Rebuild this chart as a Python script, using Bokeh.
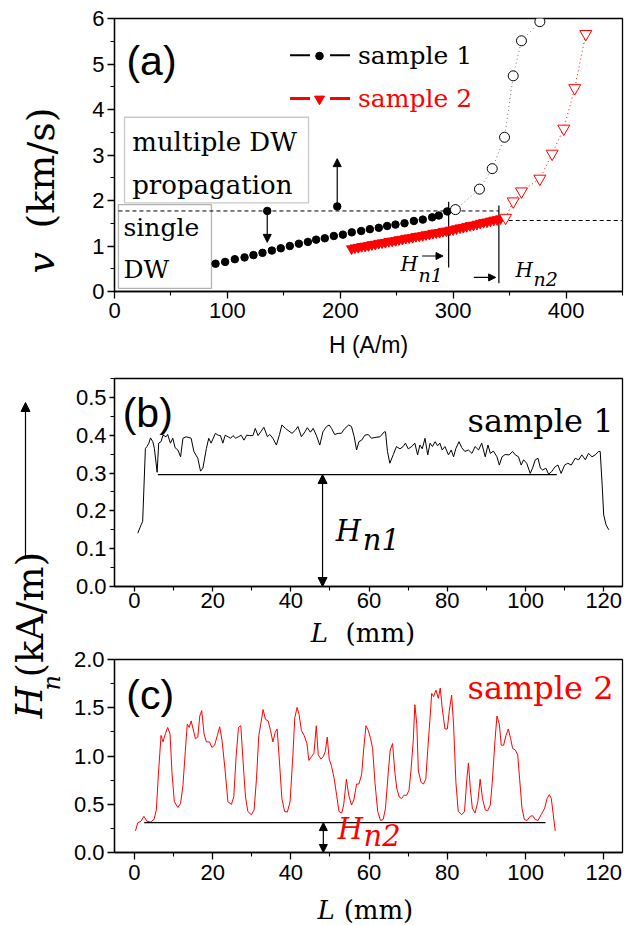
import math
from bokeh.plotting import figure
from bokeh.layouts import row, column
from bokeh.models import (Range1d, Label, Arrow, NormalHead, Legend, LegendItem,
                          FixedTicker, PrintfTickFormatter, BoxAnnotation)
from bokeh.embed import file_html
from bokeh.resources import INLINE

# ---------------- data: panel (a) ----------------
s1_fill_H = [89.5, 98.0, 106.6, 115.2, 123.1, 131.1, 139.4, 147.3, 155.3, 163.3, 171.3, 178.6, 186.3,
             194.3, 202.3, 210.2, 218.5, 226.2, 234.1, 241.5, 248.9, 256.9, 265.2, 273.1, 281.4, 287.3, 294.7]
s1_fill_v = [0.61, 0.65, 0.71, 0.75, 0.80, 0.85, 0.90, 0.95, 1.00, 1.05, 1.09, 1.14, 1.17,
             1.22, 1.25, 1.30, 1.33, 1.37, 1.40, 1.44, 1.47, 1.50, 1.55, 1.58, 1.63, 1.67, 1.76]
s1_open_H = [302.0, 323.3, 334.6, 345.5, 353.2, 360.5, 376.8]
s1_open_v = [1.80, 2.25, 2.70, 3.39, 4.74, 5.51, 5.93]
s2_fill_H = [210, 213, 216, 219, 222, 225, 228, 231, 234, 237, 240, 243, 246, 249, 252, 255, 258, 261,
             264, 267, 270, 273, 276, 279, 282, 285, 288, 291, 294, 297, 300, 303, 306, 309, 312, 315,
             318, 321, 324, 327, 330, 333, 336, 339, 342]
s2_fill_v = [0.94, 0.96, 0.97, 0.99, 1.00, 1.01, 1.03, 1.04, 1.06, 1.07, 1.08, 1.10, 1.11, 1.12, 1.14,
             1.15, 1.17, 1.18, 1.19, 1.21, 1.22, 1.23, 1.25, 1.26, 1.28, 1.29, 1.30, 1.32, 1.33, 1.35,
             1.36, 1.38, 1.40, 1.41, 1.43, 1.45, 1.46, 1.48, 1.50, 1.52, 1.53, 1.55, 1.57, 1.58, 1.60]
s2_open_H = [346.4, 353.2, 360.5, 376.8, 387.7, 398.0, 407.7, 417.5]
s2_open_v = [1.62, 1.98, 2.20, 2.48, 3.03, 3.58, 4.47, 5.66]

# critical fields and thresholds (panel a)
hn_H = [296.0, 340.5]
hn_v_low = [0.53, 0.18]
hn_v_high = [1.97, 1.89]
thr_v = [1.77, 1.56]
thr_H_start = [3.5, 343.0]
thr_H_end = [340.5, 450.0]
mark_H = [135.3, 197.3]
mark_v = [1.77, 1.87]

a_xticks = [0, 100, 200, 300, 400]
a_xminor = [50, 150, 250, 350, 450]
a_yticks = [0, 1, 2, 3, 4, 5, 6]
a_yminor = [0.5, 1.5, 2.5, 3.5, 4.5, 5.5]

# ---------------- data: panel (b) sample 1 ----------------
L_b = [0.85, 1.7, 2.1, 2.8, 3.2, 3.7, 4.1, 4.7, 5.1, 5.8,
       6.2, 6.8, 7.3, 8.1, 8.5, 9.2, 9.8, 10.4, 11.1, 11.8,
       12.4, 13.2, 14.5, 15.2, 16.2, 16.9, 17.5, 18.4, 19.0, 19.6,
       20.7, 21.4, 22.0, 22.6, 23.2, 23.9, 24.6, 25.2, 25.9, 26.6,
       27.3, 28.0, 28.7, 29.5, 30.3, 30.9, 31.6, 32.3, 33.1, 34.0,
       34.6, 35.4, 36.3, 37.1, 37.7, 38.6, 39.5, 40.3, 41.2, 41.8,
       42.7, 43.6, 44.2, 45.0, 45.7, 46.5, 47.4, 48.2, 49.1, 49.8,
       50.4, 51.2, 52.1, 52.9, 53.8, 54.8, 55.5, 56.2, 56.8, 57.4,
       58.1, 58.9, 59.8, 60.6, 61.5, 62.8, 63.9, 64.2, 64.7, 65.3,
       66.2, 67.0, 67.9, 68.7, 69.3, 70.0, 70.9, 71.7, 72.4, 73.0,
       73.6, 74.3, 75.0, 75.6, 76.2, 76.9, 77.5, 78.1, 78.7, 79.4,
       80.3, 81.0, 81.6, 82.2, 83.0, 83.7, 84.5, 85.4, 86.3, 87.1,
       88.0, 88.8, 89.7, 90.4, 91.0, 91.8, 92.7, 93.3, 94.0, 94.8,
       95.8, 96.7, 97.4, 98.2, 98.9, 99.5, 100.3, 101.2, 101.8, 102.5,
       103.2, 103.8, 104.4, 105.2, 105.9, 106.7, 107.6, 108.3, 109.1, 110.0,
       110.8, 111.7, 112.7, 113.6, 114.4, 115.3, 116.1, 117.0, 117.8, 118.7,
       119.1, 119.6, 120.0, 120.6, 121.3]
Hn_b = [0.141, 0.163, 0.172, 0.365, 0.37, 0.379, 0.393, 0.383, 0.365, 0.302,
        0.379, 0.383, 0.40, 0.396, 0.402, 0.379, 0.392, 0.367, 0.361, 0.343,
        0.392, 0.396, 0.392, 0.357, 0.339, 0.305, 0.313, 0.365, 0.392, 0.379,
        0.405, 0.40, 0.399, 0.379, 0.40, 0.396, 0.392, 0.399, 0.392, 0.396,
        0.40, 0.387, 0.40, 0.399, 0.399, 0.418, 0.399, 0.409, 0.421, 0.396,
        0.402, 0.392, 0.374, 0.402, 0.427, 0.418, 0.411, 0.405, 0.414, 0.423,
        0.396, 0.409, 0.42, 0.408, 0.418, 0.40, 0.374, 0.409, 0.423, 0.427,
        0.418, 0.402, 0.405, 0.405, 0.418, 0.427, 0.423, 0.396, 0.361, 0.383,
        0.387, 0.40, 0.402, 0.392, 0.394, 0.396, 0.409, 0.409, 0.357, 0.326,
        0.349, 0.37, 0.364, 0.37, 0.379, 0.364, 0.37, 0.379, 0.348, 0.374,
        0.364, 0.392, 0.348, 0.379, 0.37, 0.383, 0.372, 0.379, 0.361, 0.37,
        0.348, 0.361, 0.343, 0.365, 0.383, 0.367, 0.357, 0.361, 0.352, 0.37,
        0.361, 0.379, 0.343, 0.374, 0.352, 0.358, 0.343, 0.321, 0.343, 0.349,
        0.348, 0.357, 0.348, 0.343, 0.321, 0.335, 0.326, 0.299, 0.313, 0.335,
        0.339, 0.313, 0.308, 0.313, 0.297, 0.304, 0.317, 0.321, 0.299, 0.321,
        0.326, 0.321, 0.339, 0.335, 0.348, 0.335, 0.352, 0.343, 0.348, 0.357,
        0.357, 0.268, 0.189, 0.163, 0.15]
hn1_level = 0.296
hn1_span = [6.0, 108.0]
hn1_arrow_L = 48.1

# ---------------- data: panel (c) sample 2 ----------------
L_c = [0.26, 0.85, 1.7, 2.4, 3.2, 4.1, 5.0, 5.6, 6.1, 6.8,
       7.3, 7.9, 8.5, 9.1, 9.6, 10.2, 11.1, 11.8, 12.4, 13.0,
       13.5, 14.0, 14.5, 15.0, 15.6, 16.2, 16.7, 17.2, 17.8, 18.4,
       19.2, 19.8, 20.5, 21.2, 21.8, 22.4, 23.2, 23.9, 24.8, 25.4,
       26.0, 26.6, 27.2, 27.8, 28.4, 29.0, 29.9, 30.6, 31.2, 31.8,
       32.3, 32.9, 33.5, 34.2, 34.8, 35.4, 36.0, 36.5, 37.1, 37.7,
       38.4, 39.1, 39.8, 40.5, 41.0, 41.6, 42.1, 42.7, 43.4, 44.1,
       44.6, 45.3, 45.9, 46.5, 47.0, 47.7, 48.3, 48.8, 49.3, 49.8,
       50.4, 51.1, 51.7, 52.3, 53.0, 53.5, 54.2, 54.8, 55.5, 56.1,
       56.8, 57.4, 58.1, 58.6, 59.2, 59.8, 60.4, 60.9, 61.5, 62.2,
       62.9, 63.6, 64.2, 64.9, 65.4, 66.0, 66.6, 67.1, 67.7, 68.3,
       68.9, 69.6, 70.2, 70.7, 71.3, 71.7, 72.2, 72.6, 73.3, 73.9,
       74.5, 75.0, 75.6, 76.0, 76.5, 77.1, 77.7, 78.2, 78.7, 79.4,
       80.0, 80.5, 81.1, 81.6, 82.2, 82.8, 83.7, 84.4, 85.0, 85.4,
       85.9, 86.4, 87.1, 87.8, 88.4, 89.0, 89.7, 90.3, 91.0, 91.5,
       92.2, 92.7, 93.3, 93.8, 94.4, 95.0, 95.6, 96.2, 96.7, 97.4,
       98.0, 98.5, 99.1, 99.7, 100.4, 101.2, 101.8, 102.5, 103.2, 104.0,
       104.9, 105.5, 106.1, 106.6, 107.2, 107.6]
Hn_c = [0.224, 0.308, 0.325, 0.375, 0.325, 0.315, 0.342, 0.442, 0.794, 1.213,
        1.146, 1.229, 1.296, 1.229, 0.827, 0.526, 0.466, 0.509, 0.693, 1.045,
        1.33, 1.296, 1.363, 1.28, 1.179, 1.196, 1.414, 1.471, 1.229, 1.146,
        1.146, 1.089, 1.112, 1.213, 1.303, 1.162, 0.844, 0.526, 0.499, 0.576,
        0.995, 1.296, 1.313, 0.928, 0.576, 0.425, 0.392, 0.442, 0.760, 1.213,
        1.33, 1.481, 1.38, 1.363, 1.263, 1.146, 1.246, 1.28, 0.928, 0.559,
        0.425, 0.419, 0.526, 0.995, 1.397, 1.504, 1.43, 1.263, 1.213, 1.129,
        0.955, 0.995, 1.028, 1.313, 1.012, 0.968, 0.995, 1.045, 1.196, 0.968,
        0.894, 0.760, 0.593, 0.425, 0.409, 0.492, 0.760, 0.593, 0.492, 0.543,
        0.710, 0.710, 0.811, 1.062, 1.313, 1.263, 1.179, 1.079, 0.727, 0.425,
        0.332, 0.342, 0.459, 0.827, 1.062, 1.129, 0.827, 0.66, 0.576, 0.559,
        0.593, 0.593, 0.643, 0.844, 1.162, 1.531, 1.33, 0.844, 0.727, 0.710,
        0.760, 1.062, 1.397, 1.648, 1.615, 1.682, 1.598, 1.705, 1.497, 1.28,
        1.28, 1.464, 1.631, 1.33, 0.727, 0.425, 0.392, 0.425, 0.760, 0.928,
        0.66, 0.459, 0.409, 0.526, 0.760, 0.559, 0.442, 0.432, 0.492, 0.727,
        1.162, 1.414, 1.33, 1.112, 1.112, 1.213, 1.28, 1.179, 1.079, 1.062,
        1.012, 0.760, 0.459, 0.342, 0.332, 0.375, 0.382, 0.342, 0.332, 0.392,
        0.459, 0.559, 0.60, 0.559, 0.358, 0.224]
hn2_level = 0.31
hn2_span = [2.5, 105.1]
hn2_arrow_L = 48.3

L_ticks = [0, 20, 40, 60, 80, 100, 120]
L_minor = [10, 30, 50, 70, 90, 110]
b_yticks = [0.0, 0.1, 0.2, 0.3, 0.4, 0.5]
b_yminor = [0.05, 0.15, 0.25, 0.35, 0.45, 0.55]
c_yticks = [0.0, 0.5, 1.0, 1.5, 2.0]
c_yminor = [0.25, 0.75, 1.25, 1.75]

SERIF = "DejaVu Serif"
SANS = "Liberation Sans"
RED = "#ff0000"
W_LEFT = 66            # strip holding the rotated axis titles
W_RIGHT = 558          # width of the right-hand column of panels
BL, BR = 48, 2         # left / right borders of every panel
MID = 0.34             # distance (in em) from the alphabetic baseline to the text-box middle


def style(p, xt, xm, yt, ym, yfmt=None, xstand=4, tick_out=7):
    p.xgrid.visible = False
    p.ygrid.visible = False
    p.outline_line_color = "black"
    p.outline_line_width = 1.3
    p.background_fill_color = "white"
    p.border_fill_color = "white"
    for ax in list(p.xaxis) + list(p.yaxis):
        ax.axis_line_color = "black"
        ax.axis_line_width = 1.3
        ax.major_tick_line_color = "black"
        ax.major_tick_line_width = 1.3
        ax.minor_tick_line_color = "black"
        ax.minor_tick_line_width = 1.1
        ax.major_tick_in = 0
        ax.major_tick_out = tick_out
        ax.minor_tick_in = 0
        ax.minor_tick_out = 4
        ax.major_label_text_font = SANS
        ax.major_label_text_font_size = "22px"
        ax.major_label_text_color = "black"
    p.xaxis.ticker = FixedTicker(ticks=xt, minor_ticks=xm)
    p.yaxis.ticker = FixedTicker(ticks=yt, minor_ticks=ym)
    p.xaxis.major_label_standoff = xstand
    p.yaxis.major_label_standoff = 3
    if yfmt:
        p.yaxis.formatter = PrintfTickFormatter(format=yfmt)


def lab(p, x, y, text, size, color="black", font=SERIF, fstyle="normal",
        align="left", angle=0.0):
    """(x, y) is the start (or end, for right-aligned text) of the baseline."""
    off = MID * size
    if angle == 0.0:
        xo, yo = 0.0, off
    else:  # text reading upwards: its "up" points to the left of the page
        xo, yo = -off, 0.0
    p.add_layout(Label(x=x, y=y, x_offset=xo, y_offset=yo, text=text, text_font=font,
                       text_font_size=f"{size}px", text_color=color,
                       text_font_style=fstyle, text_align=align,
                       text_baseline="middle", angle=angle))


def arrow(p, x0, y0, x1, y1, both=False, size=8, color="black"):
    head = dict(size=size, line_color=color, fill_color=color, line_width=1)
    p.add_layout(Arrow(x_start=x0, y_start=y0, x_end=x1, y_end=y1,
                       end=NormalHead(**head),
                       start=NormalHead(**head) if both else None,
                       line_color=color, line_width=1.2))


def strip(height, xr):
    s = figure(width=W_RIGHT, height=height, x_range=xr, y_range=Range1d(0, height),
               x_axis_type=None, y_axis_type=None, output_backend="svg",
               toolbar_location=None, min_border_left=BL, min_border_right=BR,
               min_border_top=0, min_border_bottom=0)
    s.outline_line_color = None
    return s


# ---------------- figure (a) ----------------
fa = figure(width=W_RIGHT, height=368, x_range=Range1d(0, 450), y_range=Range1d(0, 6),
            output_backend="svg", toolbar_location=None,
            min_border_left=BL, min_border_right=BR, min_border_top=18, min_border_bottom=77)
style(fa, a_xticks, a_xminor, a_yticks, a_yminor, xstand=4)
fa.xaxis.axis_label = "H (A/m)"
fa.xaxis.axis_label_text_font = SANS
fa.xaxis.axis_label_text_font_style = "normal"
fa.xaxis.axis_label_text_font_size = "23px"
fa.xaxis.axis_label_text_color = "black"
fa.xaxis.axis_label_standoff = 11

fa.add_layout(BoxAnnotation(left=8.9, right=171.9, bottom=1.95, top=3.83, fill_alpha=0,
                            line_color="#4d4d4d", line_width=1.3))
fa.add_layout(BoxAnnotation(left=3.5, right=85.9, bottom=0.07, top=1.91, fill_alpha=0,
                            line_color="black", line_width=1.3))

fa.segment(x0=thr_H_start, y0=thr_v, x1=thr_H_end, y1=thr_v, line_color="black",
           line_width=1, line_dash="4 3")
fa.segment(x0=hn_H, y0=hn_v_low, x1=hn_H, y1=hn_v_high, line_color="black", line_width=1.2)

fa.line(s1_open_H, s1_open_v, line_color="#777777", line_width=1, line_dash="1 3")
fa.line(s2_open_H, s2_open_v, line_color=RED, line_width=1, line_dash="1 3")
r_s1 = fa.scatter(s1_fill_H, s1_fill_v, marker="circle", size=7.5, color="black")
fa.scatter(s1_open_H, s1_open_v, marker="circle", size=10, line_color="black",
           fill_color="white", line_width=1)
r_s2 = fa.scatter(s2_fill_H, s2_fill_v, marker="inverted_triangle", size=10, color=RED)
fa.scatter(s2_open_H, s2_open_v, marker="inverted_triangle", size=12, line_color=RED,
           fill_color="white", line_width=1)
fa.scatter(mark_H, mark_v, marker="circle", size=7.5, color="black")

arrow(fa, mark_H[1], 1.93, mark_H[1], 2.92)
arrow(fa, mark_H[0], 1.72, mark_H[0], 1.08)
arrow(fa, 272.5, 0.78, 291.0, 0.78, size=7)
arrow(fa, 318.3, 0.31, 337.6, 0.31, size=7)

lab(fa, 10.6, 4.77, "(a)", 41, font=SANS)
lab(fa, 15.7, 3.10, "multiple DW", 26)
lab(fa, 15.7, 2.15, "propagation", 26)
lab(fa, 8.0, 1.23, "single", 25)
lab(fa, 8.0, 0.30, "DW", 25)
lab(fa, 253.3, 0.46, "H", 20, fstyle="italic")
lab(fa, 269.3, 0.22, "n1", 19, fstyle="italic")
lab(fa, 355.2, 0.33, "H", 20, fstyle="italic")
lab(fa, 371.2, 0.13, "n2", 19, fstyle="italic")

# legend: dashed strokes drawn as head-less arrows, symbol + label from Legend
fa.add_layout(Arrow(x_start=155.5, y_start=5.19, x_end=208.7, y_end=5.19, start=None, end=None,
                    line_color="black", line_width=2, line_dash="20 20"))
fa.add_layout(Arrow(x_start=155.5, y_start=4.24, x_end=208.7, y_end=4.24, start=None, end=None,
                    line_color=RED, line_width=3, line_dash="20 20"))
common = dict(glyph_width=60, label_standoff=9, label_text_font=SERIF,
              label_text_font_size="25px", padding=0, margin=0, spacing=0,
              border_line_color=None, background_fill_alpha=0)
fa.add_layout(Legend(items=[LegendItem(label="sample 1", renderers=[r_s1])],
                     location=(175, 221), glyph_height=19, label_text_color="black", **common))
fa.add_layout(Legend(items=[LegendItem(label="sample 2", renderers=[r_s2])],
                     location=(175, 178), glyph_height=25, label_text_color=RED, **common))

# ---------------- figure (b) ----------------
xr_L = Range1d(-5.1, 124.8)
fb = figure(width=W_RIGHT, height=249, x_range=xr_L, y_range=Range1d(0, 0.55),
            output_backend="svg", toolbar_location=None,
            min_border_left=BL, min_border_right=BR, min_border_top=10, min_border_bottom=31)
style(fb, L_ticks, L_minor, b_yticks, b_yminor, yfmt="%.1f", xstand=1, tick_out=5)
fb.line(L_b, Hn_b, line_color="black", line_width=1)
fb.segment(x0=[hn1_span[0]], y0=[hn1_level], x1=[hn1_span[1]], y1=[hn1_level],
           line_color="black", line_width=1.2)
arrow(fb, hn1_arrow_L, hn1_level, hn1_arrow_L, 0.0, both=True, size=9)
lab(fb, -3.0, 0.421, "(b)", 41, font=SANS)
lab(fb, 122.5, 0.408, "sample 1", 32, align="right")
lab(fb, 51.5, 0.12, "H", 29, fstyle="italic")
lab(fb, 58.4, 0.096, "n1", 29, fstyle="italic")

sb = strip(31, xr_L)
lab(sb, 45.1, 6.5, "L", 26, fstyle="italic")
lab(sb, 54.0, 6.5, "(mm)", 26)

# ---------------- figure (c) ----------------
fc = figure(width=W_RIGHT, height=242, x_range=xr_L, y_range=Range1d(0, 2.0),
            output_backend="svg", toolbar_location=None,
            min_border_left=BL, min_border_right=BR, min_border_top=11, min_border_bottom=38)
style(fc, L_ticks, L_minor, c_yticks, c_yminor, yfmt="%.1f", xstand=5)
fc.line(L_c, Hn_c, line_color=RED, line_width=1)
fc.segment(x0=[hn2_span[0]], y0=[hn2_level], x1=[hn2_span[1]], y1=[hn2_level],
           line_color="black", line_width=1.2)
arrow(fc, hn2_arrow_L, hn2_level, hn2_arrow_L, 0.0, both=True, size=8)
lab(fc, -2.1, 1.49, "(c)", 41, font=SANS)
lab(fc, 122.5, 1.59, "sample 2", 32, color=RED, align="right")
lab(fc, 52.0, 0.14, "H", 29, color=RED, fstyle="italic")
lab(fc, 58.6, 0.07, "n2", 29, color=RED, fstyle="italic")

sc = strip(35, xr_L)
lab(sc, 46.8, 7, "L", 26, fstyle="italic")
lab(sc, 53.5, 7, "(mm)", 26)

# ---------------- left strip with the rotated axis titles ----------------
left = figure(width=W_LEFT, height=925, x_range=Range1d(0, W_LEFT), y_range=Range1d(0, 925),
              x_axis_type=None, y_axis_type=None, output_backend="svg",
              toolbar_location=None, min_border=0)
left.outline_line_color = None
up = math.pi / 2
lab(left, 53, 652, "v", 38, fstyle="italic", angle=up)
lab(left, 53, 697, "(km/s)", 38, angle=up)
lab(left, 42, 207, "H", 37, fstyle="italic", angle=up)
lab(left, 60, 235, "n", 24, fstyle="italic", angle=up)
lab(left, 43, 248, "(kA/m)", 37, angle=up)
arrow(left, 25, 367, 25, 523, size=9)

layout = row(left, column(fa, fb, sb, fc, sc))
open("out.html", "w").write(file_html(layout, INLINE))
